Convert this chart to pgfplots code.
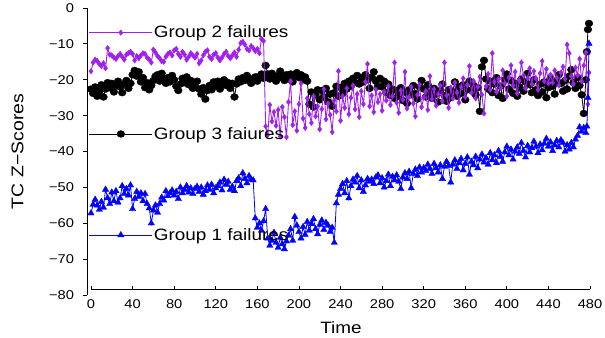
\documentclass[border=0pt]{standalone}
\usepackage{pgfplots}
\pgfplotsset{compat=1.18}
\usepackage{pgfplotstable}
\usepackage{fontspec}
\setmainfont{Liberation Sans}[FakeStretch=1.15]
\definecolor{rpurple}{HTML}{A020F0}
\definecolor{rblue}{HTML}{0000FF}

\pgfplotstableread[row sep=\\]{
x y\\
0 -17.6\\ 2 -15.2\\ 4 -14.4\\ 6 -14.8\\ 8 -15.6\\ 10 -16.2\\ 12 -15.4\\ 14 -16.8\\ 16 -11.2\\ 18 -13.0\\
20 -13.2\\ 22 -13.8\\ 24 -14.2\\ 26 -13.4\\ 28 -12.8\\ 30 -13.6\\ 32 -14.4\\ 34 -13.0\\ 36 -12.6\\ 38 -12.2\\
40 -12.8\\ 42 -14.6\\ 44 -13.4\\ 46 -14.0\\ 48 -13.2\\ 50 -12.6\\ 52 -12.8\\ 54 -13.8\\ 56 -14.4\\ 58 -15.2\\
60 -11.6\\ 62 -12.4\\ 64 -13.4\\ 66 -14.0\\ 68 -14.8\\ 70 -15.0\\ 72 -13.6\\ 74 -12.8\\ 76 -12.4\\ 78 -13.2\\
80 -11.8\\ 82 -11.4\\ 84 -12.8\\ 86 -13.6\\ 88 -12.2\\ 90 -13.0\\ 92 -14.4\\ 94 -13.6\\ 96 -12.6\\ 98 -13.2\\
100 -13.8\\ 102 -12.8\\ 104 -15.4\\ 106 -14.6\\ 108 -13.2\\ 110 -12.2\\ 112 -11.8\\ 114 -13.6\\ 116 -14.2\\ 118 -13.0\\
120 -12.6\\ 122 -13.8\\ 124 -14.6\\ 126 -13.8\\ 128 -12.8\\ 130 -12.2\\ 132 -13.4\\ 134 -14.0\\ 136 -13.2\\ 138 -12.4\\
140 -13.6\\ 142 -11.6\\ 144 -9.8\\ 146 -9.4\\ 148 -10.2\\ 150 -11.4\\ 152 -11.8\\ 154 -10.6\\ 156 -11.2\\ 158 -12.0\\
160 -11.4\\ 162 -12.6\\ 164 -8.6\\ 166 -9.2\\ 168 -33.0\\ 170 -35.4\\ 172 -27.0\\ 174 -31.6\\ 176 -29.0\\ 178 -32.8\\
180 -28.4\\ 182 -35.8\\ 184 -27.6\\ 186 -30.4\\ 188 -36.0\\ 190 -26.2\\ 192 -20.4\\ 194 -32.6\\ 196 -28.8\\ 198 -34.2\\
200 -26.8\\ 202 -21.0\\ 204 -30.8\\ 206 -33.4\\ 208 -25.2\\ 210 -29.6\\ 212 -32.0\\ 214 -24.6\\ 216 -30.2\\ 218 -27.4\\
220 -33.8\\ 222 -28.2\\ 224 -22.6\\ 226 -31.0\\ 228 -26.6\\ 230 -29.8\\ 232 -34.6\\ 234 -25.8\\ 236 -28.8\\ 238 -17.6\\
240 -31.4\\ 242 -24.6\\ 244 -27.8\\ 246 -22.4\\ 248 -29.6\\ 250 -25.0\\ 252 -21.6\\ 254 -28.2\\ 256 -24.0\\ 258 -30.4\\
260 -23.2\\ 262 -26.8\\ 264 -20.6\\ 266 -15.6\\ 268 -27.4\\ 270 -24.4\\ 272 -29.0\\ 274 -22.8\\ 276 -26.2\\ 278 -24.0\\
280 -28.6\\ 282 -23.4\\ 284 -25.8\\ 286 -21.8\\ 288 -27.0\\ 290 -24.6\\ 292 -15.2\\ 294 -26.4\\ 296 -29.2\\ 298 -23.0\\
300 -25.6\\ 302 -17.8\\ 304 -28.0\\ 306 -24.8\\ 308 -22.0\\ 310 -26.6\\ 312 -30.2\\ 314 -24.2\\ 316 -21.4\\ 318 -27.6\\
320 -25.0\\ 322 -23.2\\ 324 -28.4\\ 326 -19.0\\ 328 -25.4\\ 330 -22.6\\ 332 -27.2\\ 334 -24.0\\ 336 -21.6\\ 338 -26.0\\
340 -15.2\\ 342 -24.4\\ 344 -27.8\\ 346 -22.2\\ 348 -25.2\\ 350 -20.8\\ 352 -23.6\\ 354 -26.4\\ 356 -22.0\\ 358 -19.6\\
360 -24.8\\ 362 -21.4\\ 364 -16.2\\ 366 -23.6\\ 368 -20.4\\ 370 -25.2\\ 372 -22.0\\ 374 -19.2\\ 376 -24.2\\ 378 -29.4\\
380 -21.8\\ 382 -18.4\\ 384 -22.8\\ 386 -12.6\\ 388 -20.6\\ 390 -23.4\\ 392 -19.8\\ 394 -22.2\\ 396 -17.4\\ 398 -21.0\\
400 -24.6\\ 402 -19.4\\ 404 -16.0\\ 406 -21.6\\ 408 -17.8\\ 410 -23.8\\ 412 -20.2\\ 414 -15.2\\ 416 -18.8\\ 418 -22.4\\
420 -19.6\\ 422 -16.8\\ 424 -21.2\\ 426 -17.6\\ 428 -19.6\\ 430 -22.8\\ 432 -18.2\\ 434 -14.8\\ 436 -20.4\\ 438 -17.0\\
440 -21.0\\ 442 -18.6\\ 444 -20.8\\ 446 -17.4\\ 448 -19.4\\ 450 -21.6\\ 452 -18.0\\ 454 -16.4\\ 456 -19.8\\ 458 -10.2\\
460 -12.6\\ 462 -19.0\\ 464 -21.2\\ 466 -16.6\\ 468 -18.8\\ 470 -14.2\\ 472 -20.4\\ 474 -16.0\\ 476 -12.4\\ 478 -26.8\\
479 -18.0\\
}\grouptwo

\pgfplotstableread[row sep=\\]{
x y\\
0 -22.6\\ 2 -23.8\\ 4 -22.0\\ 6 -24.6\\ 8 -23.2\\ 10 -21.4\\ 12 -24.8\\ 14 -22.6\\ 16 -20.8\\ 18 -22.2\\
20 -21.0\\ 22 -23.4\\ 24 -21.6\\ 26 -20.4\\ 28 -22.0\\ 30 -23.6\\ 32 -21.2\\ 34 -20.2\\ 36 -22.4\\ 38 -21.0\\
40 -18.6\\ 42 -17.4\\ 44 -19.0\\ 46 -17.8\\ 48 -20.6\\ 50 -19.4\\ 52 -22.2\\ 54 -20.8\\ 56 -22.8\\ 58 -21.6\\
60 -20.2\\ 62 -19.0\\ 64 -18.6\\ 66 -20.4\\ 68 -18.2\\ 70 -19.8\\ 72 -21.0\\ 74 -19.4\\ 76 -20.6\\ 78 -18.8\\
80 -20.0\\ 82 -21.8\\ 84 -23.0\\ 86 -21.2\\ 88 -19.6\\ 90 -20.8\\ 92 -19.2\\ 94 -21.4\\ 96 -20.2\\ 98 -22.4\\
100 -21.0\\ 102 -20.4\\ 104 -22.6\\ 106 -24.0\\ 108 -22.2\\ 110 -25.4\\ 112 -23.0\\ 114 -21.6\\ 116 -22.8\\ 118 -20.6\\
120 -21.8\\ 122 -20.4\\ 124 -22.6\\ 126 -21.2\\ 128 -20.0\\ 130 -21.6\\ 132 -20.8\\ 134 -22.4\\ 136 -21.0\\ 138 -24.8\\
140 -21.2\\ 142 -19.8\\ 144 -20.6\\ 146 -19.4\\ 148 -20.2\\ 150 -18.8\\ 152 -19.6\\ 154 -21.0\\ 156 -20.0\\ 158 -19.2\\
160 -20.4\\ 162 -19.0\\ 164 -18.4\\ 166 -19.6\\ 168 -16.0\\ 170 -18.4\\ 172 -19.8\\ 174 -18.2\\ 176 -19.6\\ 178 -20.4\\
180 -18.8\\ 182 -17.6\\ 184 -19.4\\ 186 -20.2\\ 188 -18.6\\ 190 -19.8\\ 192 -18.4\\ 194 -20.6\\ 196 -19.2\\ 198 -18.0\\
200 -19.4\\ 202 -18.6\\ 204 -20.0\\ 206 -19.2\\ 208 -20.4\\ 210 -26.8\\ 212 -23.4\\ 214 -27.6\\ 216 -24.2\\ 218 -22.8\\
220 -25.6\\ 222 -23.0\\ 224 -24.8\\ 226 -22.4\\ 228 -26.2\\ 230 -24.0\\ 232 -27.4\\ 234 -23.6\\ 236 -21.8\\ 238 -24.6\\
240 -22.2\\ 242 -23.8\\ 244 -21.0\\ 246 -22.6\\ 248 -20.4\\ 250 -21.8\\ 252 -19.6\\ 254 -20.8\\ 256 -18.8\\ 258 -21.2\\
260 -19.4\\ 262 -20.6\\ 264 -18.6\\ 266 -20.0\\ 268 -22.4\\ 270 -19.2\\ 272 -17.8\\ 274 -20.4\\ 276 -21.8\\ 278 -19.6\\
280 -22.0\\ 282 -20.4\\ 284 -23.6\\ 286 -21.2\\ 288 -24.4\\ 290 -22.6\\ 292 -25.2\\ 294 -23.0\\ 296 -24.6\\ 298 -22.2\\
300 -25.8\\ 302 -23.4\\ 304 -26.6\\ 306 -22.8\\ 308 -24.2\\ 310 -21.6\\ 312 -23.8\\ 314 -25.4\\ 316 -22.0\\ 318 -20.2\\
320 -22.6\\ 322 -24.8\\ 324 -21.4\\ 326 -23.6\\ 328 -25.2\\ 330 -22.4\\ 332 -24.0\\ 334 -26.2\\ 336 -23.0\\ 338 -21.2\\
340 -24.4\\ 342 -26.0\\ 344 -22.8\\ 346 -25.0\\ 348 -23.2\\ 350 -20.6\\ 352 -24.6\\ 354 -22.0\\ 356 -23.8\\ 358 -21.4\\
360 -25.6\\ 362 -22.8\\ 364 -20.4\\ 366 -23.0\\ 368 -21.6\\ 370 -24.2\\ 372 -22.2\\ 374 -28.8\\ 376 -16.4\\ 378 -14.6\\
380 -19.8\\ 382 -22.6\\ 384 -20.4\\ 386 -23.6\\ 388 -21.2\\ 390 -19.4\\ 392 -24.4\\ 394 -21.8\\ 396 -25.2\\ 398 -20.0\\
400 -18.4\\ 402 -22.6\\ 404 -20.2\\ 406 -23.8\\ 408 -21.0\\ 410 -24.6\\ 412 -22.0\\ 414 -19.8\\ 416 -23.2\\ 418 -20.6\\
420 -18.2\\ 422 -21.4\\ 424 -23.6\\ 426 -20.0\\ 428 -22.8\\ 430 -24.4\\ 432 -21.2\\ 434 -23.4\\ 436 -20.6\\ 438 -25.0\\
440 -22.2\\ 442 -19.6\\ 444 -21.8\\ 446 -24.0\\ 448 -20.4\\ 450 -18.6\\ 452 -21.0\\ 454 -23.2\\ 456 -20.2\\ 458 -22.6\\
460 -19.0\\ 462 -17.2\\ 464 -20.8\\ 466 -22.4\\ 468 -19.4\\ 470 -21.6\\ 472 -24.2\\ 474 -29.4\\ 476 -20.0\\ 477 -12.2\\
478 -6.0\\ 479 -4.3\\
}\groupthree

\pgfplotstableread[row sep=\\]{
x y\\
0 -57.2\\ 2 -54.8\\ 4 -53.4\\ 6 -55.0\\ 8 -56.2\\ 10 -54.0\\ 12 -55.6\\ 14 -50.6\\ 16 -53.0\\ 18 -54.6\\
20 -51.4\\ 22 -53.8\\ 24 -51.0\\ 26 -54.2\\ 28 -53.0\\ 30 -49.6\\ 32 -51.8\\ 34 -50.4\\ 36 -52.2\\ 38 -49.4\\
40 -56.0\\ 42 -53.2\\ 44 -51.2\\ 46 -52.6\\ 48 -51.6\\ 50 -53.8\\ 52 -51.8\\ 54 -54.6\\ 56 -55.8\\ 58 -60.0\\
60 -56.4\\ 62 -55.0\\ 64 -57.0\\ 66 -54.6\\ 68 -52.8\\ 70 -53.6\\ 72 -51.0\\ 74 -52.4\\ 76 -51.6\\ 78 -50.8\\
80 -52.2\\ 82 -51.2\\ 84 -53.2\\ 86 -50.0\\ 88 -51.6\\ 90 -50.6\\ 92 -49.6\\ 94 -51.4\\ 96 -50.2\\ 98 -51.8\\
100 -50.4\\ 102 -49.8\\ 104 -51.2\\ 106 -50.0\\ 108 -52.0\\ 110 -51.0\\ 112 -49.4\\ 114 -50.6\\ 116 -49.2\\ 118 -51.6\\
120 -50.2\\ 122 -49.6\\ 124 -48.6\\ 126 -50.8\\ 128 -47.8\\ 130 -49.2\\ 132 -48.4\\ 134 -50.6\\ 136 -49.8\\ 138 -51.0\\
140 -48.2\\ 142 -47.4\\ 144 -49.6\\ 146 -46.0\\ 148 -47.6\\ 150 -48.8\\ 152 -46.8\\ 154 -47.8\\ 156 -48.0\\ 158 -58.6\\
160 -61.2\\ 162 -60.0\\ 164 -62.0\\ 166 -59.4\\ 168 -56.0\\ 170 -64.2\\ 172 -66.2\\ 174 -64.8\\ 176 -62.6\\ 178 -65.4\\
180 -66.8\\ 182 -64.0\\ 184 -65.8\\ 186 -67.2\\ 188 -65.0\\ 190 -63.4\\ 192 -61.6\\ 194 -64.8\\ 196 -58.2\\ 198 -60.6\\
200 -62.4\\ 202 -64.2\\ 204 -61.0\\ 206 -63.2\\ 208 -59.6\\ 210 -62.0\\ 212 -60.2\\ 214 -58.8\\ 216 -61.6\\ 218 -63.0\\
220 -60.4\\ 222 -59.2\\ 224 -61.8\\ 226 -59.8\\ 228 -60.6\\ 230 -62.4\\ 232 -61.2\\ 234 -65.4\\ 236 -54.4\\ 238 -52.0\\
240 -50.4\\ 242 -49.0\\ 244 -51.6\\ 246 -48.2\\ 248 -53.0\\ 250 -49.6\\ 252 -47.8\\ 254 -48.6\\ 256 -46.8\\ 258 -50.2\\
260 -48.0\\ 262 -51.2\\ 264 -49.4\\ 266 -47.6\\ 268 -48.4\\ 270 -47.8\\ 272 -49.0\\ 274 -47.2\\ 276 -46.6\\ 278 -48.8\\
280 -47.4\\ 282 -50.0\\ 284 -48.2\\ 286 -46.4\\ 288 -49.6\\ 290 -47.0\\ 292 -48.0\\ 294 -46.6\\ 296 -48.4\\ 298 -50.4\\
300 -47.2\\ 302 -46.0\\ 304 -47.6\\ 306 -45.6\\ 308 -50.2\\ 310 -46.2\\ 312 -45.0\\ 314 -46.8\\ 316 -44.4\\ 318 -45.8\\
320 -44.6\\ 322 -45.4\\ 324 -43.6\\ 326 -44.8\\ 328 -46.2\\ 330 -43.4\\ 332 -44.6\\ 334 -45.8\\ 336 -43.8\\ 338 -47.6\\
340 -44.2\\ 342 -42.8\\ 344 -44.0\\ 346 -48.6\\ 348 -43.6\\ 350 -42.4\\ 352 -44.8\\ 354 -43.2\\ 356 -42.0\\ 358 -45.2\\
360 -43.4\\ 362 -41.6\\ 364 -46.4\\ 366 -42.8\\ 368 -43.8\\ 370 -41.4\\ 372 -44.6\\ 374 -42.2\\ 376 -40.8\\ 378 -43.0\\
380 -41.8\\ 382 -43.6\\ 384 -40.4\\ 386 -42.4\\ 388 -41.0\\ 390 -43.2\\ 392 -39.8\\ 394 -41.4\\ 396 -42.8\\ 398 -40.2\\
400 -38.6\\ 402 -41.0\\ 404 -39.4\\ 406 -42.2\\ 408 -40.0\\ 410 -38.8\\ 412 -40.6\\ 414 -37.6\\ 416 -39.8\\ 418 -41.6\\
420 -38.4\\ 422 -40.2\\ 424 -39.0\\ 426 -37.2\\ 428 -38.6\\ 430 -40.4\\ 432 -38.0\\ 434 -39.6\\ 436 -37.8\\ 438 -36.4\\
440 -38.6\\ 442 -37.4\\ 444 -39.8\\ 446 -38.2\\ 448 -37.0\\ 450 -38.8\\ 452 -36.8\\ 454 -37.6\\ 456 -40.0\\ 458 -38.2\\
460 -39.4\\ 462 -37.6\\ 464 -38.8\\ 466 -36.6\\ 468 -35.6\\ 470 -33.2\\ 472 -34.4\\ 474 -33.4\\ 476 -34.8\\ 477 -33.0\\
478 -25.0\\ 479 -9.9\\
}\groupone

\pgfplotsset{
  base/.style={scale only axis, width=508bp, height=287bp,
    xmin=-3.85, xmax=484.8, ymin=-80, ymax=0,
    at={(0,0)}, anchor=south west, clip=false},
  hidden/.style={base, hide axis},
  legax/.style={hidden,
    legend style={at={(0.004,#1)}, anchor=west, draw=none, fill=none,
      inner sep=0pt, outer sep=0pt,
      font=\fontsize{16.5}{18}\selectfont,
      nodes={inner sep=1.2bp}},
    legend image code/.code={\draw[mark repeat=2,mark phase=2,line width=0.6bp]
      plot coordinates {(0bp,0bp) (31.5bp,0bp) (63bp,0bp)};}},
  s2/.style={color=rpurple, line width=0.9bp, mark=diamond*, mark size=2.8bp,
    mark options={solid, line width=0.3bp}},
  s3/.style={color=black, line width=0.8bp, mark=*, mark size=3.5bp,
    mark options={solid, line width=0.3bp, xscale=1.12}},
  s1/.style={color=rblue, line width=0.8bp, mark=triangle*, mark size=3.7bp,
    mark options={solid, line width=0.3bp}},
}

\begin{document}
\begin{tikzpicture}
\begin{axis}[base,
  axis x line=bottom, axis y line=left,
  axis line style={-, line width=0.8bp},
  x axis line style={shorten <=3.9bp, shorten >=5bp},
  axis x line shift=-6bp,
  tick align=outside, major tick length=3.5bp,
  every tick/.style={black, line width=0.8bp},
  x tick style={yshift=3.5bp},
  xtick={0,40,80,120,160,200,240,280,320,360,400,440,480},
  xticklabels={0,40,80,120,160,200,240,280,320,360,400,440,480},
  ytick={-80,-70,-60,-50,-40,-30,-20,-10,0},
  yticklabels={−80,−70,−60,−50,−40,−30,−20,−10,0},
  ticklabel style={font=\fontsize{12.8}{14}\selectfont},
  xticklabel style={yshift=-4bp},
  yticklabel style={xshift=-6bp},
  xlabel={Time}, ylabel={TC Z−Scores},
  every axis x label/.style={at={(axis description cs:0.5,-0.1132)}, anchor=center,
    font=\fontsize{16.5}{18}\selectfont},
  every axis y label/.style={at={(axis description cs:-0.1368,0.5)}, anchor=center, rotate=90,
    font=\fontsize{17}{19}\selectfont},
]
\addplot[s3] table[x=x,y=y] {\groupthree};
\end{axis}
\begin{axis}[hidden]
\addplot[s2] table[x=x,y=y] {\grouptwo};
\end{axis}
\begin{axis}[hidden]
\addplot[s1] table[x=x,y=y] {\groupone};
\end{axis}
\begin{axis}[legax=0.914]
\addlegendimage{s2}
\addlegendentry{Group 2 failures}
\end{axis}
\begin{axis}[legax=0.561]
\addlegendimage{s3}
\addlegendentry{Group 3 faiures}
\end{axis}
\begin{axis}[legax=0.209]
\addlegendimage{s1}
\addlegendentry{Group 1 failures}
\end{axis}
\pgfresetboundingbox
\path (-87bp,-43bp) rectangle (518bp,295bp);
\end{tikzpicture}
\end{document}
